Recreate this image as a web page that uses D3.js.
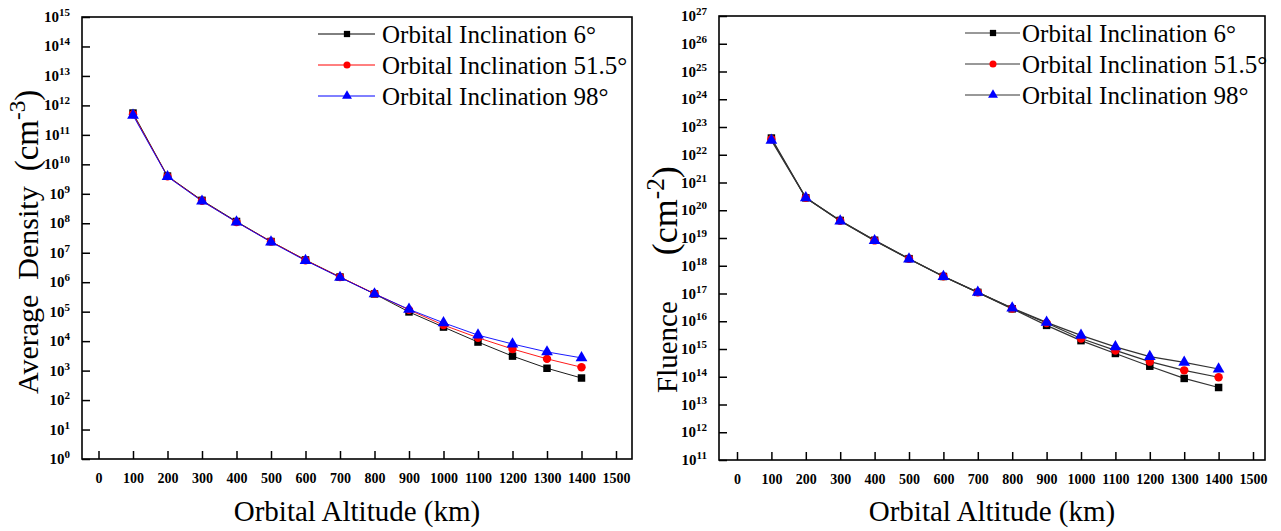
<!DOCTYPE html>
<html>
<head>
<meta charset="utf-8">
<script src="https://cdn.jsdelivr.net/npm/d3@7"></script>
<style>
  body { margin: 0; background: #fff; }
</style>
</head>
<body>
<script>
// Data
var altitudes = [100, 200, 300, 400, 500, 600, 700, 800, 900, 1000, 1100, 1200, 1300, 1400];
var seriesNames = ["Orbital Inclination 6°", "Orbital Inclination 51.5°", "Orbital Inclination 98°"];

var density6   = [5.5e11, 4.0e9, 6.0e8, 1.15e8, 2.4e7, 5.7e6, 1.5e6, 4.0e5, 9.8e4, 3.0e4, 9.3e3, 3.1e3, 1.2e3, 5.6e2];
var density515 = [5.0e11, 3.9e9, 5.8e8, 1.1e8, 2.4e7, 5.6e6, 1.5e6, 4.1e5, 1.15e5, 3.5e4, 1.3e4, 5.4e3, 2.5e3, 1.3e3];
var density98  = [4.6e11, 3.8e9, 5.6e8, 1.1e8, 2.3e7, 5.4e6, 1.45e6, 4.0e5, 1.2e5, 4.2e4, 1.6e4, 8.0e3, 4.3e3, 2.7e3];

var fluence6   = [4.0e22, 2.8e20, 4.3e19, 8.3e18, 1.8e18, 4.1e17, 1.1e17, 2.8e16, 7.1e15, 2.0e15, 6.9e14, 2.4e14, 8.7e13, 4.1e13];
var fluence515 = [3.6e22, 2.8e20, 4.2e19, 8.2e18, 1.8e18, 4.2e17, 1.1e17, 2.9e16, 8.6e15, 2.4e15, 8.9e14, 3.5e14, 1.7e14, 9.6e13];
var fluence98  = [3.3e22, 2.8e20, 4.1e19, 8.0e18, 1.75e18, 4.1e17, 1.1e17, 3.0e16, 9.1e15, 3.1e15, 1.2e15, 5.3e14, 3.3e14, 1.9e14];

var xTicks = d3.range(0, 1501, 100);
var densityExponents = d3.range(0, 16);
var fluenceExponents = d3.range(11, 28);

var markerColors = ["#000000", "#ff0000", "#0000ff"];
var markerTypes = [d3.symbolSquare, d3.symbolCircle, d3.symbolTriangle];
var markerSizes = [56, 56, 60];

var svg = d3.select("body").append("svg").attr("width", 1281).attr("height", 531);

function drawPanel(cfg) {
    var g = svg.append("g");
    var x = d3.scaleLinear().domain([0, 1500]).range([cfg.x0, cfg.x1500]);
    var y = d3.scaleLog().domain([Math.pow(10, cfg.exps[0]), Math.pow(10, cfg.exps[cfg.exps.length - 1])]).range([cfg.bottom, cfg.top]);

    // frame
    g.append("rect")
        .attr("x", cfg.left).attr("y", cfg.top)
        .attr("width", cfg.right - cfg.left).attr("height", cfg.bottom - cfg.top)
        .attr("fill", "none").attr("stroke", "#000").attr("stroke-width", 1.6);

    // x axis (inward ticks)
    var xa = g.append("g").attr("transform", "translate(0," + cfg.bottom + ")")
        .call(d3.axisBottom(x).tickValues(xTicks).tickFormat(d3.format("d"))
            .tickSizeInner(-8).tickSizeOuter(0).tickPadding(14));
    xa.select(".domain").remove();
    xa.selectAll(".tick line").attr("stroke-width", 1.5);
    xa.selectAll(".tick text").attr("font-weight", "bold").attr("font-size", 14).attr("fill", "#000");

    // y axis (inward ticks)
    var tickVals = cfg.exps.map(function(e) { return Math.pow(10, e); });
    var ya = g.append("g").attr("transform", "translate(" + cfg.left + ",0)")
        .call(d3.axisLeft(y).tickValues(tickVals).tickSizeInner(-8).tickSizeOuter(0).tickFormat(""));
    ya.select(".domain").remove();
    ya.selectAll(".tick line").attr("stroke-width", 1.5);

    cfg.exps.forEach(function(e) {
        var t = g.append("text")
            .attr("x", cfg.left - 12)
            .attr("y", y(Math.pow(10, e)) + 5)
            .attr("text-anchor", "end")
            .attr("font-weight", "bold")
            .attr("font-size", 15);
        t.append("tspan").text("10");
        t.append("tspan").attr("font-size", 11).attr("dy", -6).text(e);
    });

    // series
    var line = d3.line()
        .x(function(d) { return x(d[0]); })
        .y(function(d) { return y(d[1]); });

    cfg.series.forEach(function(vals, i) {
        var pts = altitudes.map(function(a, j) { return [a, vals[j]]; });
        g.append("path").datum(pts)
            .attr("d", line)
            .attr("fill", "none")
            .attr("stroke", cfg.lineColors[i])
            .attr("stroke-width", cfg.lineWidth);
    });
    cfg.series.forEach(function(vals, i) {
        var pts = altitudes.map(function(a, j) { return [a, vals[j]]; });
        g.selectAll(null).data(pts).enter().append("path")
            .attr("d", d3.symbol().type(markerTypes[i]).size(markerSizes[i]))
            .attr("transform", function(d) { return "translate(" + x(d[0]) + "," + y(d[1]) + ")"; })
            .attr("fill", markerColors[i]);
    });

    // legend
    seriesNames.forEach(function(name, i) {
        var cy = cfg.legY + i * 31;
        g.append("line")
            .attr("x1", cfg.legX1).attr("x2", cfg.legX2)
            .attr("y1", cy).attr("y2", cy)
            .attr("stroke", cfg.lineColors[i]).attr("stroke-width", 1);
        g.append("path")
            .attr("d", d3.symbol().type(markerTypes[i]).size(markerSizes[i] * 0.7))
            .attr("transform", "translate(" + cfg.legMark + "," + cy + ")")
            .attr("fill", markerColors[i]);
        g.append("text")
            .attr("x", cfg.legText).attr("y", cy + 9)
            .attr("font-size", 25)
            .text(name);
    });

    // x title
    g.append("text")
        .attr("x", (cfg.left + cfg.right) / 2).attr("y", 521)
        .attr("text-anchor", "middle").attr("font-size", 29)
        .text("Orbital Altitude (km)");

    // y title (reads upward, starts at the bottom)
    var yt = g.append("text")
        .attr("transform", "translate(" + cfg.yTitleX + "," + cfg.yTitleStart + ") rotate(-90)")
        .attr("text-anchor", "start").attr("font-size", cfg.yWordSize)
        .style("white-space", "pre");
    yt.append("tspan").text(cfg.yWords);
    yt.append("tspan").attr("dx", cfg.yGap).attr("font-size", cfg.yParenSize).text("(cm");
    yt.append("tspan").attr("font-size", cfg.yParenSize * 0.7).attr("dy", -13).text(cfg.yExp);
    yt.append("tspan").attr("font-size", cfg.yParenSize).attr("dy", 13).text(")");
}

drawPanel({
    left: 82, right: 632, top: 17, bottom: 459,
    x0: 98.5, x1500: 616,
    exps: densityExponents,
    series: [density6, density515, density98],
    lineColors: ["#000000", "#ff0000", "#0000ff"],
    lineWidth: 0.9,
    legY: 34, legX1: 318, legX2: 375, legMark: 347, legText: 382,
    yWords: "Average  Density", yGap: 15, yWordSize: 30, yParenSize: 33, yExp: "-3",
    yTitleX: 38, yTitleStart: 394
});

drawPanel({
    left: 719, right: 1265, top: 16, bottom: 460,
    x0: 737, x1500: 1253,
    exps: fluenceExponents,
    series: [fluence6, fluence515, fluence98],
    lineColors: ["#333333", "#333333", "#333333"],
    lineWidth: 1.2,
    legY: 33, legX1: 965, legX2: 1020, legMark: 993, legText: 1022,
    yWords: "Fluence", yGap: 46, yWordSize: 29, yParenSize: 36, yExp: "-2",
    yTitleX: 677, yTitleStart: 393
});

svg.selectAll("text").style("font-family", "Liberation Serif");
</script>
</body>
</html>
